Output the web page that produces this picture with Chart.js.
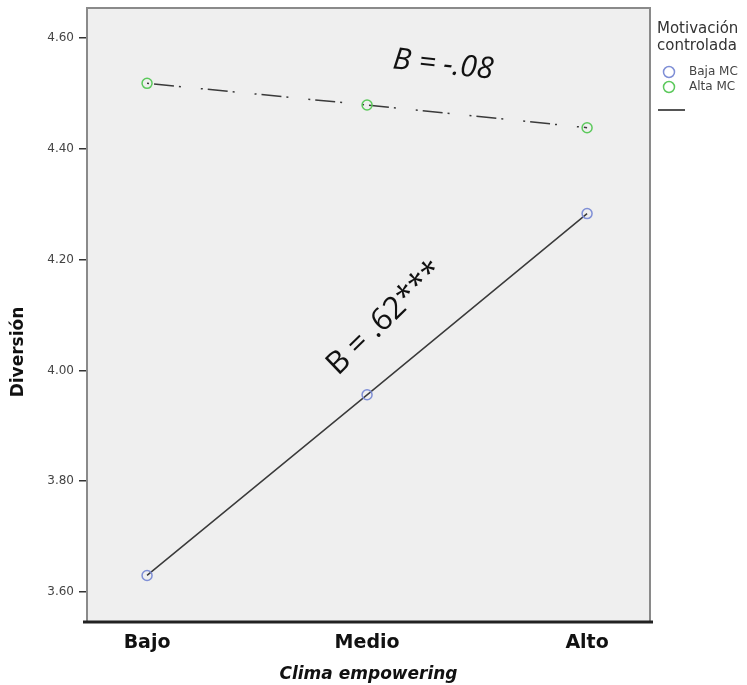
<!DOCTYPE html>
<html>
<head>
<meta charset="utf-8">
<script src="https://cdn.jsdelivr.net/npm/chart.js@4"></script>
<style>
  html, body { margin: 0; padding: 0; background: #fff; }
  #wrap { position: relative; width: 747px; height: 685px; }
</style>
</head>
<body>
<div id="wrap"><canvas id="chart" width="747" height="685"></canvas></div>
<script>
// data
const categories = ["Bajo", "Medio", "Alto"];
const bajaMC = [3.630, 3.956, 4.283];
const altaMC = [4.518, 4.479, 4.438];
const yTicks = [3.60, 3.80, 4.00, 4.20, 4.40, 4.60];
const seriesNames = ["Baja MC", "Alta MC"];
const legendTitle = ["Motivación", "controlada"];
const yTitle = "Diversión";
const notes = [
    { text: "B = -.08", x: 1.345, y: 4.551, angle: 6, italic: true, size: 30 },
    { text: "B = .62***", x: 1.083, y: 4.094, angle: -44, italic: false, size: 31 }
];

const blue = "#7f8fd6";
const green = "#5cc95c";
const sans = "'DejaVu Sans', sans-serif";

// plot background, frame, notes and legend
const framePlugin = {
    id: "frame",
    beforeDatasetsDraw(chart) {
        const { ctx, chartArea: a } = chart;
        ctx.save();
        ctx.fillStyle = "#efefef";
        ctx.fillRect(a.left, a.top, a.right - a.left, a.bottom - a.top);
        ctx.strokeStyle = "#8a8a8a";
        ctx.lineWidth = 2;
        ctx.beginPath();
        ctx.moveTo(a.left, a.bottom);
        ctx.lineTo(a.left, a.top);
        ctx.lineTo(a.right, a.top);
        ctx.lineTo(a.right, a.bottom);
        ctx.stroke();
        ctx.strokeStyle = "#222";
        ctx.lineWidth = 3;
        ctx.beginPath();
        ctx.moveTo(a.left - 4, a.bottom);
        ctx.lineTo(a.right + 3, a.bottom);
        ctx.stroke();
        ctx.restore();
    },
    afterDraw(chart) {
        const { ctx, scales } = chart;
        ctx.save();
        ctx.fillStyle = "#111";
        notes.forEach(n => {
            ctx.save();
            ctx.translate(scales.x.getPixelForValue(n.x), scales.y.getPixelForValue(n.y));
            ctx.rotate(n.angle * Math.PI / 180);
            ctx.font = (n.italic ? "italic " : "") + n.size + "px 'Open Sans', sans-serif";
            ctx.textAlign = "center";
            ctx.textBaseline = "middle";
            ctx.fillText(n.text, 0, 0);
            ctx.restore();
        });

        // y axis title, sits a bit below the middle
        ctx.save();
        ctx.translate(19, 352);
        ctx.rotate(-Math.PI / 2);
        ctx.font = "bold 17px " + sans;
        ctx.textAlign = "center";
        ctx.textBaseline = "middle";
        ctx.fillText(yTitle, 0, 0);
        ctx.restore();

        // legend on the right
        const lx = chart.chartArea.right + 7;
        ctx.fillStyle = "#333";
        ctx.font = "15px " + sans;
        ctx.textAlign = "left";
        ctx.textBaseline = "middle";
        ctx.fillText(legendTitle[0], lx, 29);
        ctx.fillText(legendTitle[1], lx, 46);
        const cols = [blue, green];
        ctx.font = "12px " + sans;
        seriesNames.forEach((s, i) => {
            const y = 72 + i * 15;
            ctx.strokeStyle = cols[i];
            ctx.lineWidth = 1.5;
            ctx.beginPath();
            ctx.arc(lx + 12, y, 5.5, 0, Math.PI * 2);
            ctx.stroke();
            ctx.fillStyle = "#444";
            ctx.fillText(s, lx + 32, y);
        });
        ctx.strokeStyle = "#555";
        ctx.lineWidth = 2;
        ctx.beginPath();
        ctx.moveTo(lx + 1, 110);
        ctx.lineTo(lx + 28, 110);
        ctx.stroke();
        ctx.restore();
    }
};

function toPoints(values) {
    return values.map((v, i) => ({ x: i, y: v }));
}

new Chart(document.getElementById("chart"), {
    type: "line",
    data: {
        datasets: [
            {
                label: seriesNames[0],
                data: toPoints(bajaMC),
                borderColor: "#3a3a3a",
                borderWidth: 1.5,
                pointStyle: "circle",
                pointRadius: 5,
                pointBorderColor: blue,
                pointBackgroundColor: "rgba(0,0,0,0)",
                pointBorderWidth: 1.5
            },
            {
                label: seriesNames[1],
                data: toPoints(altaMC),
                borderColor: "#3a3a3a",
                borderWidth: 1.5,
                borderDash: [2, 5, 20, 5, 2, 20],
                pointStyle: "circle",
                pointRadius: 5,
                pointBorderColor: green,
                pointBackgroundColor: "rgba(0,0,0,0)",
                pointBorderWidth: 1.5
            }
        ]
    },
    options: {
        responsive: false,
        animation: false,
        layout: { padding: { top: 8, right: 97, left: 0, bottom: 0 } },
        plugins: {
            legend: { display: false },
            tooltip: { enabled: false }
        },
        scales: {
            x: {
                type: "linear",
                min: -0.273,
                max: 2.286,
                afterBuildTicks: scale => {
                    scale.ticks = categories.map((c, i) => ({ value: i }));
                },
                afterFit: scale => {
                    scale.height = 63;
                    scale.paddingLeft = 0;
                    scale.paddingRight = 0;
                },
                grid: { display: false, drawTicks: false },
                border: { display: false },
                ticks: {
                    callback: v => categories[v],
                    color: "#111",
                    font: { family: sans, size: 19, weight: "bold" },
                    padding: 10,
                    maxRotation: 0
                },
                title: {
                    display: true,
                    text: "Clima empowering",
                    color: "#111",
                    font: { family: sans, size: 17, weight: "bold", style: "italic" },
                    padding: { top: 2, bottom: 0 }
                }
            },
            y: {
                min: 3.546,
                max: 4.654,
                afterBuildTicks: scale => {
                    scale.ticks = yTicks.map(v => ({ value: v }));
                },
                afterFit: scale => {
                    scale.width = 87;
                    scale.paddingTop = 0;
                    scale.paddingBottom = 0;
                },
                grid: { drawOnChartArea: false, drawTicks: true, tickLength: 8, color: "#333", lineWidth: 1.5 },
                border: { display: false },
                ticks: {
                    callback: v => v.toFixed(2),
                    color: "#444",
                    font: { family: sans, size: 12 },
                    padding: 5
                }
            }
        }
    },
    plugins: [framePlugin]
});
</script>
</body>
</html>
